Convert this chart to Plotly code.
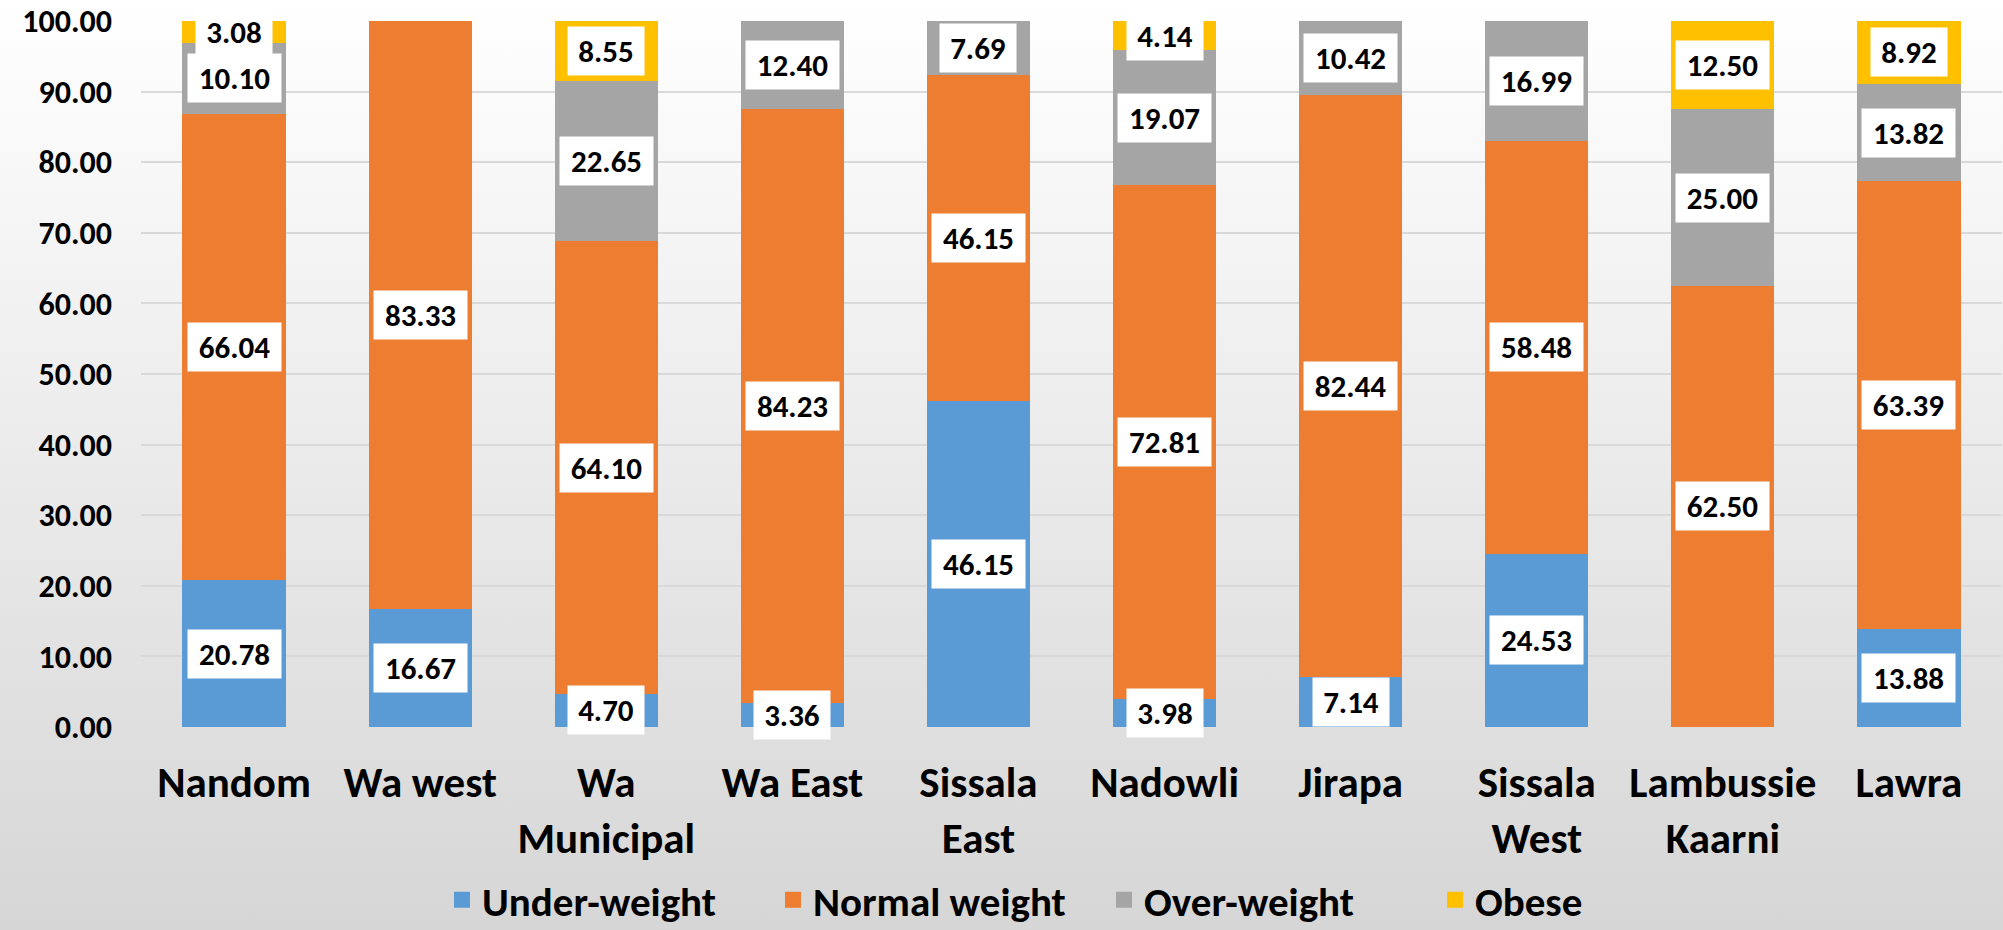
import base64
import plotly.graph_objects as go

districts = ["Nandom", "Wa west", "Wa<br>Municipal", "Wa East", "Sissala<br>East",
             "Nadowli", "Jirapa", "Sissala<br>West", "Lambussie<br>Kaarni", "Lawra"]
under_weight = [20.78, 16.67, 4.70, 3.36, 46.15, 3.98, 7.14, 24.53, 0.00, 13.88]
normal_weight = [66.04, 83.33, 64.10, 84.23, 46.15, 72.81, 82.44, 58.48, 62.50, 63.39]
over_weight = [10.10, 0.00, 22.65, 12.40, 7.69, 19.07, 10.42, 16.99, 25.00, 13.82]
obese = [3.08, 0.00, 8.55, 0.00, 0.00, 4.14, 0.00, 0.00, 12.50, 8.92]
y_ticks = [0, 10, 20, 30, 40, 50, 60, 70, 80, 90, 100]

series = [
    ("Under-weight", under_weight, "#5B9BD5"),
    ("Normal weight", normal_weight, "#ED7D31"),
    ("Over-weight", over_weight, "#A5A5A5"),
    ("Obese", obese, "#FFC000"),
]

FONT = "Carlito, Calibri, Lato, sans-serif"
W, H = 2003, 930
ML, MR, MT, MB = 141, 1, 21, 203

fig = go.Figure()
for name, vals, col in series:
    fig.add_trace(go.Bar(x=districts, y=vals, name=name, marker=dict(color=col, line=dict(width=0)),
                         showlegend=False, hoverinfo="x+y+name"))
for name, vals, col in series:
    fig.add_trace(go.Scatter(x=[None], y=[None], mode="markers", name=f"<b>{name}</b>",
                             marker=dict(symbol="square", size=22, color=col)))

# data labels centered in segments
ann = []
base = [0.0] * len(districts)
for name, vals, col in series:
    for i, v in enumerate(vals):
        if v > 0:
            txt = f"{v:.2f}"
            ann.append(dict(x=districts[i], y=base[i] + v / 2, xref="x", yref="y", text=f"<b>{txt}</b>",
                            showarrow=False, bgcolor="white", width=17 * len(txt) + 6, height=46,
                            font=dict(family=FONT, size=31, color="black")))
        base[i] += v

pw = W - ML - MR
ph = H - MT - MB
svg = ('<svg xmlns="http://www.w3.org/2000/svg" width="100" height="100" preserveAspectRatio="none">'
       '<defs><linearGradient id="g" x1="0" y1="0" x2="0" y2="1">'
       '<stop offset="0" stop-color="#ffffff"/><stop offset="1" stop-color="#d6d6d6"/>'
       '</linearGradient></defs><rect width="100" height="100" fill="url(#g)"/></svg>')
src = "data:image/svg+xml;base64," + base64.b64encode(svg.encode()).decode()

fig.update_layout(
    width=W, height=H,
    barmode="stack", bargap=0.445,
    margin=dict(l=ML, r=MR, t=MT, b=MB, autoexpand=False),
    paper_bgcolor="white", plot_bgcolor="rgba(0,0,0,0)",
    font=dict(family=FONT, color="black"),
    annotations=ann,
    images=[dict(source=src, xref="paper", yref="paper", x=-0.3, y=1 + MT / ph,
                 sizex=1.6, sizey=H / ph, xanchor="left", yanchor="top",
                 sizing="stretch", layer="below")],
    legend=dict(orientation="h", x=(442 - ML) / pw, xanchor="left", y=-(900 - MT - ph) / ph,
                yanchor="middle", traceorder="normal", entrywidth=286, entrywidthmode="pixels",
                font=dict(family=FONT, size=41, color="black"), itemsizing="trace",
                bgcolor="rgba(0,0,0,0)"),
    xaxis=dict(tickfont=dict(family=FONT, size=43, color="black"), showgrid=False,
               showline=False, ticks="", ticklabelstandoff=26),
    yaxis=dict(range=[0, 100], tickvals=y_ticks, ticktext=[f"<b>{t:.2f}</b>" for t in y_ticks],
               tickfont=dict(family=FONT, size=32, color="black"), showgrid=True,
               gridcolor="#d9d9d9", gridwidth=2, zeroline=False, showline=False, ticks="",
               ticklabelstandoff=28),
)
fig.update_xaxes(ticktext=[f"<b>{d}</b>" for d in districts], tickvals=districts)
fig.write_html("out.html", config={"displayModeBar": False},
               post_script="document.body.style.margin='0';document.body.style.overflow='hidden';")
